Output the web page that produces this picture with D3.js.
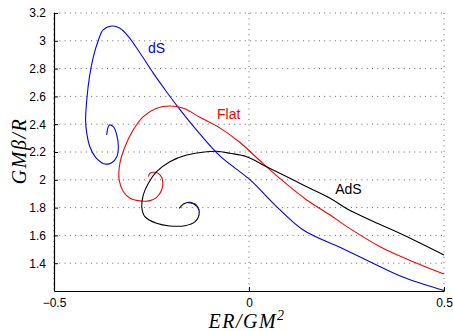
<!DOCTYPE html>
<html>
<head>
<meta charset="utf-8">
<script src="https://cdn.jsdelivr.net/npm/d3@7"></script>
<style>
  body { margin: 0; background: #fff; }
  svg { display: block; }
</style>
</head>
<body>
<figure id="chart" style="margin:0"></figure>
<script>
// values: [ER/GM^2, GM beta/R]
const dS = [
  [-0.365, 2.322], [-0.358, 2.394], [-0.348, 2.382], [-0.339, 2.322], [-0.335, 2.238],
  [-0.339, 2.166], [-0.352, 2.123], [-0.369, 2.114], [-0.391, 2.155], [-0.408, 2.238],
  [-0.416, 2.335], [-0.419, 2.430], [-0.416, 2.574], [-0.409, 2.742], [-0.399, 2.886],
  [-0.386, 3.006], [-0.374, 3.078], [-0.352, 3.106], [-0.331, 3.090], [-0.309, 3.030],
  [-0.279, 2.910], [-0.245, 2.766], [-0.211, 2.632], [-0.177, 2.505], [-0.126, 2.330],
  [-0.074, 2.170], [0.003, 1.999], [0.072, 1.804], [0.139, 1.639], [0.233, 1.514],
  [0.310, 1.411], [0.396, 1.299], [0.500, 1.204]
];
const dSTail = [[-0.156, 1.835], [-0.138, 1.826], [-0.132, 1.806], [-0.128, 1.783]];
const flat = [
  [-0.258, 2.022], [-0.254, 2.047], [-0.241, 2.054], [-0.228, 2.035], [-0.221, 1.986],
  [-0.224, 1.927], [-0.237, 1.874], [-0.254, 1.850], [-0.275, 1.847], [-0.305, 1.867],
  [-0.322, 1.914], [-0.333, 1.999], [-0.331, 2.119], [-0.318, 2.238], [-0.297, 2.358],
  [-0.271, 2.454], [-0.237, 2.514], [-0.203, 2.531], [-0.168, 2.514], [-0.126, 2.450],
  [-0.074, 2.372], [-0.023, 2.268], [0.024, 2.148], [0.079, 2.010], [0.148, 1.855],
  [0.208, 1.747], [0.251, 1.663], [0.336, 1.519], [0.421, 1.411], [0.500, 1.322]
];
const adS = [
  [-0.179, 1.795], [-0.168, 1.826], [-0.151, 1.838], [-0.130, 1.795], [-0.128, 1.747],
  [-0.138, 1.699], [-0.164, 1.670], [-0.203, 1.668], [-0.237, 1.687], [-0.267, 1.735],
  [-0.275, 1.806], [-0.271, 1.891], [-0.258, 1.975], [-0.237, 2.058], [-0.203, 2.130],
  [-0.160, 2.178], [-0.108, 2.202], [-0.083, 2.205], [-0.049, 2.191], [-0.006, 2.166],
  [0.045, 2.094], [0.105, 2.011], [0.156, 1.939], [0.208, 1.867], [0.251, 1.792],
  [0.319, 1.700], [0.396, 1.603], [0.500, 1.459]
];
const xTicks = [-0.5, 0, 0.5];
const yTicks = [1.4, 1.6, 1.8, 2, 2.2, 2.4, 2.6, 2.8, 3, 3.2];
// curve labels: [text, x, y]
const labels = [["dS", -0.259, 2.912], ["Flat", -0.082, 2.437], ["AdS", 0.221, 1.898]];

const W = 453, H = 331;
const margin = { top: 13, right: 9, bottom: 40, left: 54 };
const width = W - margin.left - margin.right;
const height = H - margin.top - margin.bottom;

const svg = d3.select("figure#chart").append("svg")
  .attr("width", W).attr("height", H)
  .style("font-family", "'Liberation Sans', Arial, sans-serif");
const g = svg.append("g").attr("transform", `translate(${margin.left},${margin.top})`);

const x = d3.scaleLinear().domain([-0.5, 0.5]).range([0, width]);
const y = d3.scaleLinear().domain([1.2, 3.2]).range([height, 0]);

// dotted grid
g.append("g").selectAll("line").data(yTicks).enter().append("line")
  .attr("x1", 0).attr("x2", width)
  .attr("y1", d => y(d)).attr("y2", d => y(d))
  .attr("stroke", "#666").attr("stroke-width", 1).attr("stroke-dasharray", "1,4.3");
g.append("g").selectAll("line").data(xTicks).enter().append("line")
  .attr("x1", d => x(d)).attr("x2", d => x(d))
  .attr("y1", 0).attr("y2", height)
  .attr("stroke", "#666").attr("stroke-width", 1).attr("stroke-dasharray", "1,4.3");

// axes, ticks pointing inward
const xAxis = g.append("g").attr("transform", `translate(0,${height})`)
  .call(d3.axisBottom(x).tickValues(xTicks).tickSize(-4).tickPadding(7)
    .tickFormat(d => d === 0 ? "0" : d3.format(".1f")(d)).tickSizeOuter(0));
const yAxis = g.append("g")
  .call(d3.axisLeft(y).tickValues(yTicks).tickSize(-4).tickPadding(8)
    .tickFormat(d => String(+d.toFixed(1))).tickSizeOuter(0));
[xAxis, yAxis].forEach(a => {
  a.select(".domain").attr("stroke", "#000").attr("stroke-width", 1.2);
  a.selectAll(".tick line").attr("stroke", "#000");
  a.selectAll("text").attr("font-size", 12).attr("fill", "#000")
    .attr("font-family", "'Liberation Sans', Arial, sans-serif");
});

// curves
const line = d3.line().x(d => x(d[0])).y(d => y(d[1])).curve(d3.curveCatmullRom.alpha(0.5));
const series = [[dS, "#0000ff"], [flat, "#ff0000"], [adS, "#000000"], [dSTail, "#0000ff"]];
g.selectAll("path.curve").data(series).enter().append("path")
  .attr("class", "curve")
  .attr("d", d => line(d[0]))
  .attr("fill", "none")
  .attr("stroke", d => d[1])
  .attr("stroke-width", 1.1);

const labelColor = { dS: "#0000ff", Flat: "#ff0000", AdS: "#000000" };
g.selectAll("text.lbl").data(labels).enter().append("text")
  .attr("class", "lbl")
  .attr("x", d => x(d[1])).attr("y", d => y(d[2]))
  .attr("font-size", 14)
  .attr("fill", d => labelColor[d[0]])
  .text(d => d[0]);

// axis titles
const xt = svg.append("text")
  .attr("x", 247).attr("y", 328)
  .attr("text-anchor", "middle")
  .attr("font-family", "'Liberation Serif', 'Times New Roman', serif")
  .attr("font-style", "italic").attr("font-size", 20).attr("letter-spacing", 1.5);
xt.append("tspan").text("ER/GM");
xt.append("tspan").attr("dy", -8).attr("font-size", 14).text("2");

svg.append("text")
  .attr("transform", `translate(26,151) rotate(-90)`)
  .attr("text-anchor", "middle")
  .attr("font-family", "'Liberation Serif', 'Times New Roman', serif")
  .attr("font-style", "italic").attr("font-size", 20).attr("letter-spacing", 1.5)
  .text("GMβ/R");
</script>
</body>
</html>
